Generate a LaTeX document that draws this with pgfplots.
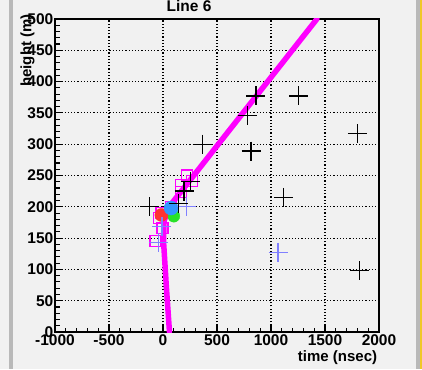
\documentclass[border=0pt]{standalone}
\usepackage{fontspec}
\setmainfont{Liberation Sans}
\usepackage{pgfplots}
\pgfplotsset{compat=1.18}

\definecolor{panel}{RGB}{241,241,241}
\definecolor{edgegray}{RGB}{185,185,185}
\definecolor{rootyellow}{RGB}{240,200,40}
\definecolor{trackmag}{RGB}{255,0,255}
\definecolor{hitblue}{RGB}{128,128,255}
\definecolor{dotblue}{RGB}{50,150,255}
\definecolor{dotred}{RGB}{255,50,50}
\definecolor{dotgreen}{RGB}{40,225,40}

\begin{document}
\begin{tikzpicture}[x=1pt,y=1pt]
\useasboundingbox (0,0) rectangle (422,369);
% canvas and window edges
\fill[panel] (0,0) rectangle (422,369);
\fill[edgegray] (9,0) rectangle (12.5,369);
\fill[edgegray] (416,0) rectangle (419.5,369);
\fill[rootyellow] (420,0) rectangle (422,369);

\begin{axis}[
  at={(55pt,37pt)}, anchor=south west,
  scale only axis, width=324pt, height=313pt,
  xmin=-1000, xmax=2000, ymin=0, ymax=500,
  xtick={-1000,-500,...,2000}, ytick={0,50,...,500},
  minor x tick num=4, minor y tick num=4,
  tick pos=left, tick align=inside,
  major tick length=8pt, minor tick length=4.5pt,
  every tick/.style={black, line width=1.1pt},
  axis line style={black, line width=1.8pt},
  grid=major,
  major grid style={black, line width=1.1pt, dash pattern=on 1.1pt off 2.1pt},
  scaled ticks=false,
  /pgf/number format/assume math mode=true,
  /pgf/number format/set thousands separator={},
  ticklabel style={font=\bfseries\fontsize{15.5}{16}\selectfont},
  yticklabel style={inner sep=1.5pt},
  xticklabel style={inner sep=2.5pt},
  title={Line 6},
  title style={font=\bfseries\fontsize{15.5}{16}\selectfont, at={(axis description cs:0.4136,1.004)}, anchor=base, inner sep=0pt},
  xlabel={time (nsec)},
  xlabel style={font=\bfseries\fontsize{15}{16}\selectfont, at={(axis description cs:0.995,-0.083)}, anchor=east, inner sep=0pt},
  ylabel={height (m)},
  ylabel style={font=\bfseries\fontsize{15}{16}\selectfont, at={(axis description cs:-0.085,1.016)}, anchor=east, inner sep=0pt},
]

% fitted track
\addplot[trackmag, line width=5.5pt, line join=round, line cap=round] coordinates {
  (60,0) (30,75) (5,145) (10,178) (70,203) (1425,500)
};

% hits on track (open squares)
\addplot[only marks, mark=square, mark size=5.5pt, trackmag, mark options={line width=1.3pt}] coordinates {
  (-70,145) (-5,166) (-35,182) (-15,190) (75,200) (165,224) (165,235) (225,250) (270,241)
};

% fitted vertices
\addplot[only marks, mark=*, mark size=6pt, dotgreen, mark options={draw=none}] coordinates {(100,185)};
\addplot[only marks, mark=*, mark size=6.5pt, dotred, mark options={draw=none}] coordinates {(-15,187)};
\addplot[only marks, mark=*, mark size=7pt, dotblue, mark options={draw=none}] coordinates {(75,198)};

% secondary hits
\addplot[only marks, mark=+, mark size=9.5pt, hitblue, mark options={line width=1.2pt}] coordinates {
  (1065,127) (-45,143) (-10,168) (220,200)
};

% all hits
\addplot[only marks, mark=+, mark size=9.5pt, black, mark options={line width=1.3pt}] coordinates {
  (-125,200) (145,205) (195,225) (253,240) (365,300) (785,346) (860,377)
  (1255,377) (815,289) (1800,317) (1115,215) (1820,98)
};
\end{axis}
\end{tikzpicture}
\end{document}
